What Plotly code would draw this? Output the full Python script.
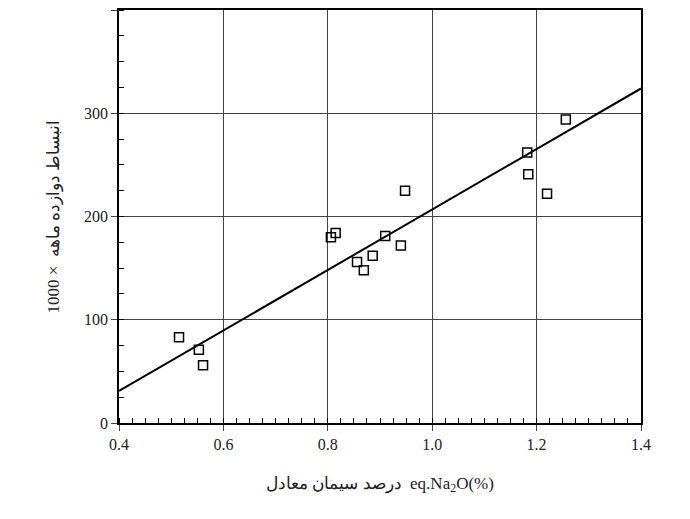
import plotly.graph_objects as go

x_vals = [0.515, 0.553, 0.561, 0.806, 0.815, 0.856, 0.869, 0.886, 0.910, 0.940, 0.948, 1.182, 1.184, 1.220, 1.256]
y_vals = [83, 71, 56, 180, 184, 156, 148, 162, 181, 172, 225, 262, 241, 222, 294]
line_x = [0.4, 1.4]
line_y = [31, 324]

fig = go.Figure()
fig.add_trace(go.Scatter(x=line_x, y=line_y, mode="lines", line=dict(color="black", width=2), hoverinfo="skip"))
fig.add_trace(go.Scatter(x=x_vals, y=y_vals, mode="markers",
                         marker=dict(symbol="square-open", size=9, color="black", line=dict(width=1.5))))

font = dict(family="Liberation Serif", size=16, color="#222")
fig.update_layout(
    width=690, height=519, showlegend=False,
    paper_bgcolor="white", plot_bgcolor="white",
    margin=dict(l=111, r=57, t=0, b=104, pad=0), font=font,
    xaxis=dict(range=[0.4, 1.4], dtick=0.2, tickformat=".1f", showgrid=True, gridcolor="#444", gridwidth=1,
               showline=True, linecolor="black", linewidth=1.5, mirror=True, ticks="outside", ticklen=6,
               minor=dict(dtick=0.025, ticks="inside", ticklen=5, tickcolor="black"),
               zeroline=False,
               title=dict(text="درصد سیمان معادل  eq.Na<sub>2</sub>O(%)", font=dict(family="Liberation Serif", size=17), standoff=25)),
    yaxis=dict(range=[0, 400], dtick=100, showgrid=True, gridcolor="#444", gridwidth=1,
               showline=True, linecolor="black", linewidth=1.5, mirror=True, ticks="outside", ticklen=6,
               minor=dict(dtick=25, ticks="inside", ticklen=5, tickcolor="black"),
               zeroline=False,
               title=dict(text="انبساط دوازده ماهه  × 1000", font=dict(family="Liberation Serif", size=17), standoff=20)),
)
fig.write_html("out.html")
